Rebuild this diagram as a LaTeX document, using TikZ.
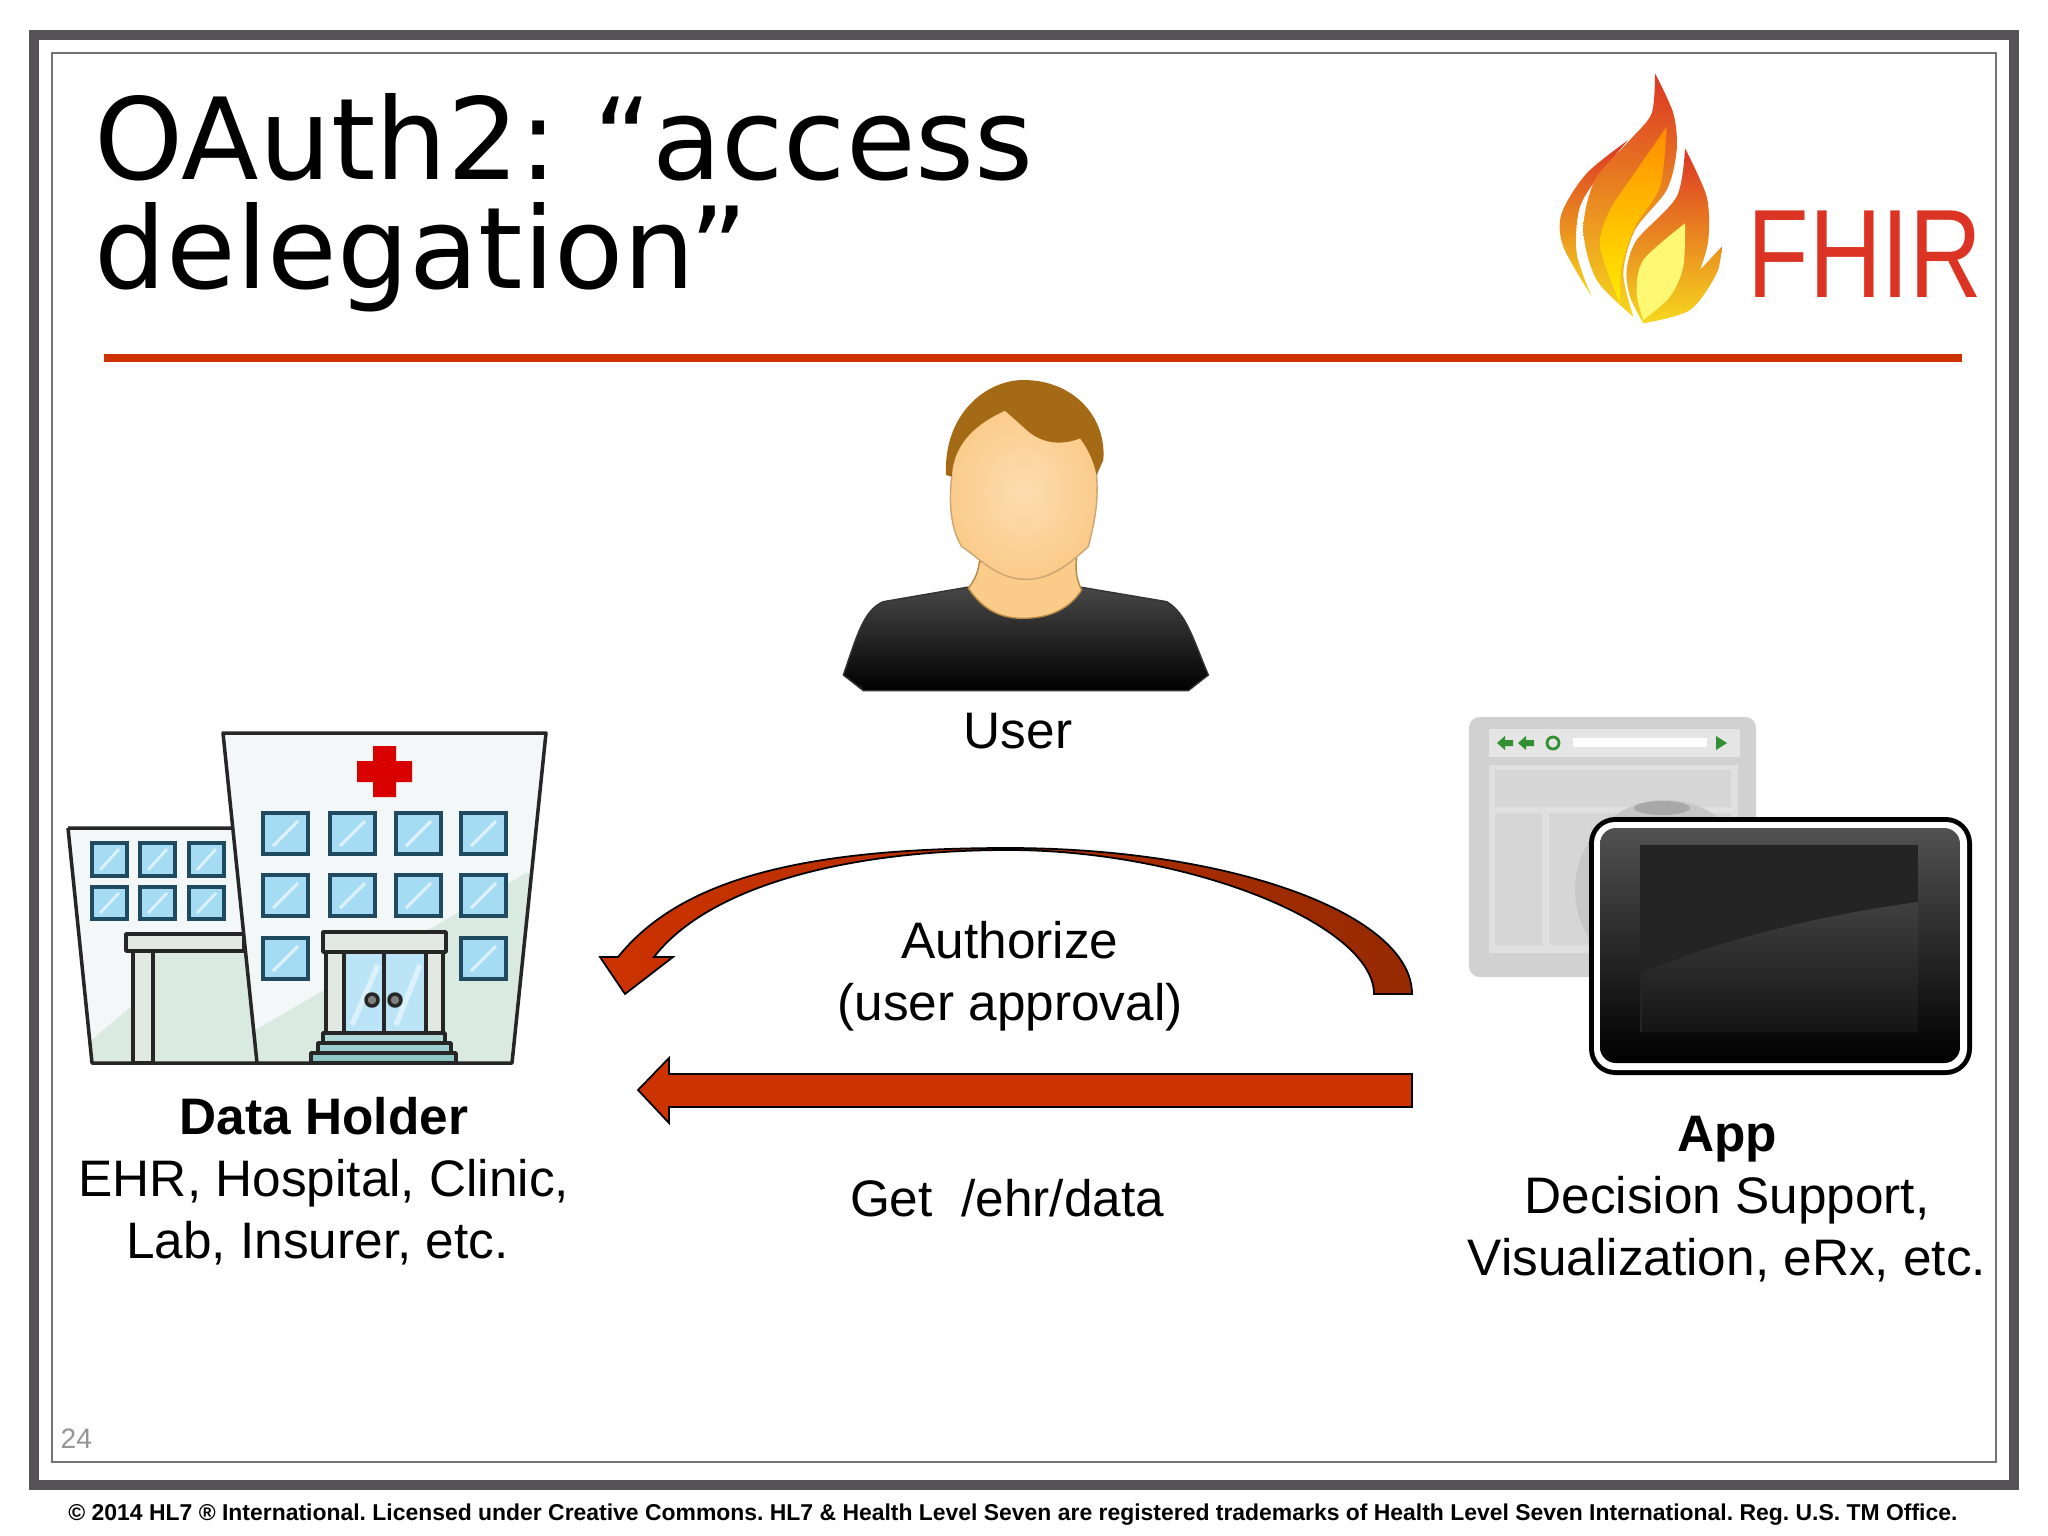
\documentclass[tikz,border=0pt]{standalone}
\usepackage{fontspec}
\setmainfont{Liberation Sans}
\newfontfamily\titlefont{DejaVu Sans}
\definecolor{hlred}{HTML}{CC3300}
\definecolor{hldark}{HTML}{962A00}
\definecolor{wallcol}{HTML}{F3F7F7}
\definecolor{greencol}{HTML}{DAEAE1}
\definecolor{capcol}{HTML}{E2E8E2}
\definecolor{glasscol}{HTML}{A6DBF4}
\definecolor{panecol}{HTML}{1F4A60}
\definecolor{framecol}{HTML}{555355}
\definecolor{flamered}{HTML}{DC3424}
\definecolor{flameyel}{HTML}{F6D81E}
\definecolor{haircol}{HTML}{A56A15}
\definecolor{skincol}{HTML}{FBCB8A}
\definecolor{skinlite}{HTML}{FDDDB0}
\frenchspacing

\begin{document}
\begin{tikzpicture}[x=0.01cm,y=-0.01cm]
  \useasboundingbox (0,0) rectangle (2048,1536);
  \tikzset{LabelStyle/.style={font=\fontsize{14.6}{17.5}\selectfont,align=center,inner sep=0pt}}
  \tikzset{WallStyle/.style={draw=black!85,line width=1pt,line join=round}}
  \tikzset{PaneStyle/.style={fill=glasscol,draw=panecol,line width=1pt}}
  \tikzset{FlameStyle/.style={top color=flamered,middle color=orange!45!red,bottom color=flameyel}}
  \tikzset{ArrowStyle/.style={draw=black,line width=0.5pt,line join=miter}}
  % frame
  \draw[framecol,line width=2.85pt] (34,35) rectangle (2014,1485);
  \draw[black!55,line width=0.5pt] (52,53) rectangle (1996,1462);
  \draw[hlred,line width=2.2pt] (104,358) -- (1962,358);
  \node (Title) [anchor=north west,inner sep=0pt,align=left,
    font=\titlefont\fontsize{32.2}{30.8}\selectfont] at (94,93) {OAuth2: “access\\delegation”};
  \node (Page) [anchor=base west,inner sep=0pt,text=black!42,font=\fontsize{8}{10}\selectfont]
    at (60,1448) {24};
  \node (Legal) [anchor=base,inner sep=0pt,font=\fontsize{6.52}{8}\selectfont\bfseries] at (1013,1520)
    {© 2014 HL7 ® International. Licensed under Creative Commons. HL7 \& Health Level Seven are registered trademarks of Health Level Seven International. Reg. U.S. TM Office.};
  % logo
  \begin{scope}[shift={(1520,40)},scale=1/3]
    \path[FlameStyle]
      plot[smooth] coordinates {(325,300) (200,400) (125,520) (130,620) (215,770)}
      -- plot[smooth] coordinates {(215,770) (170,640) (180,500) (250,390) (325,300)} -- cycle;
    \path[FlameStyle]
      plot[smooth] coordinates {(405,100) (395,220) (330,300) (225,420) (190,570) (230,720) (340,830)}
      -- plot[smooth] coordinates {(340,830) (310,700) (345,570) (440,450) (470,330) (460,220) (405,100)} -- cycle;
    \path[top color=orange!90!yellow,bottom color=yellow!85!orange]
      plot[smooth] coordinates {(440,260) (350,390) (270,510) (240,620) (300,790)}
      -- plot[smooth] coordinates {(300,790) (305,680) (345,560) (420,440) (440,260)} -- cycle;
    \path[FlameStyle]
      plot[smooth] coordinates {(495,325) (560,470) (565,600) (540,690)}
      -- (605,620) -- plot[smooth] coordinates {(605,620) (590,700) (510,810) (370,850)}
      -- plot[smooth] coordinates {(370,850) (330,770) (320,690) (350,600) (470,470) (495,325)} -- cycle;
    \path[fill=yellow!55]
      plot[smooth] coordinates {(495,550) (370,660) (350,760) (370,840)}
      -- plot[smooth] coordinates {(370,840) (450,770) (490,680) (495,550)} -- cycle;
  \end{scope}
  \node (Fhir) [anchor=base west,inner sep=0pt,text=flamered,font=\fontsize{35.8}{36}\selectfont]
    at (1747,297) {\scalebox{.8}[1]{FHIR}};
  % user
  \begin{scope}[shift={(820,370)},scale=1/3]
    \path[top color=black!72,bottom color=black,draw=black!80,line width=0.4pt]
      (70,915) .. controls (110,800) and (130,720) .. (190,695) -- (440,652) -- (785,652)
      -- (1040,695) .. controls (1100,730) and (1120,810) .. (1165,915) -- (1105,962) -- (130,962) -- cycle;
    \path[fill=skincol,draw=haircol!80,line width=0.4pt]
      (478,575) .. controls (475,610) and (460,635) .. (445,655) .. controls (490,720) and (540,745) .. (610,745)
      .. controls (690,745) and (750,715) .. (785,660) .. controls (770,630) and (765,600) .. (770,565) -- cycle;
    \path[inner color=skinlite,outer color=skincol,draw=haircol!60,line width=0.4pt]
      (395,320) .. controls (385,410) and (395,480) .. (425,530) .. controls (480,565) and (530,628) .. (620,628)
      .. controls (700,628) and (760,570) .. (805,530) .. controls (825,450) and (835,400) .. (830,320)
      .. controls (830,200) and (700,100) .. (600,100) .. controls (500,100) and (395,200) .. (395,320) -- cycle;
    \path[fill=haircol]
      (378,315) .. controls (370,130) and (500,30) .. (610,30) .. controls (760,30) and (860,140) .. (850,270)
      -- (830,315) .. controls (820,270) and (800,230) .. (780,205) .. controls (730,225) and (670,225) .. (620,180)
      -- (555,122) .. controls (470,160) and (400,220) .. (395,320) -- cycle;
  \end{scope}
  \node (User) [LabelStyle,anchor=base] at (1018,748) {User};
  % hospital, wing
  \path[fill=wallcol] (68,828) -- (232,828) -- (257,1063) -- (92,1063) -- cycle;
  \begin{scope}
    \clip (68,828) -- (232,828) -- (257,1063) -- (92,1063) -- cycle;
    \fill[greencol] (80,1050) -- (133,1005) -- (133,951) -- (260,951) -- (260,1070) -- (80,1070) -- cycle;
  \end{scope}
  \draw[WallStyle] (68,828) -- (232,828) (68,828) -- (92,1063) -- (257,1063);
  \draw[WallStyle,fill=capcol] (133,951) rectangle (153,1063);
  \draw[WallStyle,fill=capcol] (126,934) rectangle (244,951);
  \foreach \x in {92,140,189}
    \foreach \y/\h in {843/33,887/32} {
      \draw[PaneStyle] (\x,\y) rectangle ++(35,\h);
      \draw[white!60!glasscol,line width=0.8pt] (\x+8,\y+\h-6) -- (\x+27,\y+6);
    }
  % hospital, main block
  \path[fill=wallcol] (223,733) -- (546,733) -- (512,1063) -- (257,1063) -- cycle;
  \begin{scope}
    \clip (223,733) -- (546,733) -- (512,1063) -- (257,1063) -- cycle;
    \fill[greencol] (250,1033) -- (526,873) -- (560,873) -- (560,1070) -- (250,1070) -- cycle;
  \end{scope}
  \draw[WallStyle] (223,733) -- (546,733) -- (512,1063) -- (257,1063) -- cycle;
  \fill[red!85!black] (373,746) rectangle (396,797) (357,761) rectangle (412,782);
  \foreach \x/\y in {263/813,330/813,396/813,461/813,263/875,330/875,396/875,461/875,263/938,461/938} {
    \draw[PaneStyle] (\x,\y) rectangle ++(45,41);
    \draw[white!60!glasscol,line width=0.9pt] (\x+10,\y+33) -- (\x+35,\y+8);
  }
  \draw[WallStyle,fill=capcol] (326,952) rectangle (443,1033);
  \draw[WallStyle,fill=glasscol!75!white] (344,952) rectangle (426,1033);
  \draw[white!60!glasscol,line width=1.5pt] (352,1025) -- (378,965) (396,1025) -- (420,965);
  \draw[WallStyle] (384,952) -- (384,1033);
  \draw[WallStyle,fill=capcol] (323,932) rectangle (446,952);
  \draw[WallStyle,fill=black!50] (372,1000) circle[radius=6] (395,1000) circle[radius=6];
  \draw[WallStyle,fill=teal!30!white] (323,1033) rectangle (445,1043);
  \draw[WallStyle,fill=teal!38!white] (318,1043) rectangle (451,1053);
  \draw[WallStyle,fill=teal!45!white] (311,1053) rectangle (456,1063);
  \node (Holder) [LabelStyle,anchor=base] at (324,1258)
    {\textbf{Data Holder}\\EHR, Hospital, Clinic,\\Lab, Insurer, etc.\hspace*{3.7pt}};
  % app, browser behind tablet
  \fill[black!18,rounded corners=3pt] (1469,717) rectangle (1756,977);
  \fill[black!10] (1489,729) rectangle (1740,757);
  \fill[white] (1573,738) rectangle (1707,747);
  \fill[black!12] (1489,765) rectangle (1738,953);
  \fill[black!16] (1495,770) rectangle (1731,807) (1495,813) rectangle (1542,945) (1549,813) rectangle (1731,945);
  \fill[black!22] (1665,890) circle[radius=90];
  \fill[black!34] (1662,808) ellipse[x radius=28,y radius=7];
  \foreach \x in {1505,1526}
    \fill[green!45!black!80] (\x-8,743) -- (\x,736) -- (\x,740) -- (\x+8,740) -- (\x+8,746) -- (\x,746) -- (\x,750) -- cycle;
  \draw[green!45!black!80,line width=0.8pt] (1553,743) circle[radius=6];
  \fill[green!45!black!80] (1716,736) -- (1727,743) -- (1716,750) -- cycle;
  % app, tablet
  \fill[black,rounded corners=7.5pt] (1589,817) rectangle (1972,1075);
  \fill[white,rounded corners=6pt] (1594,822) rectangle (1967,1070);
  \path[top color=black!68,bottom color=black,rounded corners=4.5pt] (1600,828) rectangle (1960,1063);
  \fill[black!86] (1640,845) rectangle (1918,1032);
  \path[top color=black!75,bottom color=black!92]
    (1642,973) .. controls (1720,940) and (1820,915) .. (1918,902) -- (1918,1032) -- (1642,1032) -- cycle;
  \node (App) [LabelStyle,anchor=base] at (1727,1275)
    {\textbf{App}\\Decision Support,\\Visualization, eRx, etc.};
  % arrows
  \coordinate (AuthTail) at (1412,994);
  \coordinate (AuthTip) at (625,994);
  \draw[ArrowStyle,left color=hlred,middle color=hlred,right color=hldark]
    (AuthTail) .. controls (1412,914) and (1230,848) .. (1008,848)
    .. controls (800,848) and (680,880) .. (618,957) -- (600,957) -- (AuthTip) -- (673,957) -- (654,957)
    .. controls (710,885) and (850,850) .. (1008,850)
    .. controls (1190,850) and (1374,925) .. (1374,994) -- cycle;
  \coordinate (GetTip) at (638,1090);
  \draw[ArrowStyle,fill=hlred] (GetTip) -- ++(31,-32) -- ++(0,16) -- ++(743,0) -- ++(0,33)
    -- ++(-743,0) -- ++(0,16) -- cycle;
  \node (Auth) [LabelStyle,anchor=base] at (1010,1020) {Authorize\\(user approval)};
  \node (Get) [LabelStyle,anchor=base] at (1007,1216) {Get\ \ /ehr/data};
\end{tikzpicture}
\end{document}
